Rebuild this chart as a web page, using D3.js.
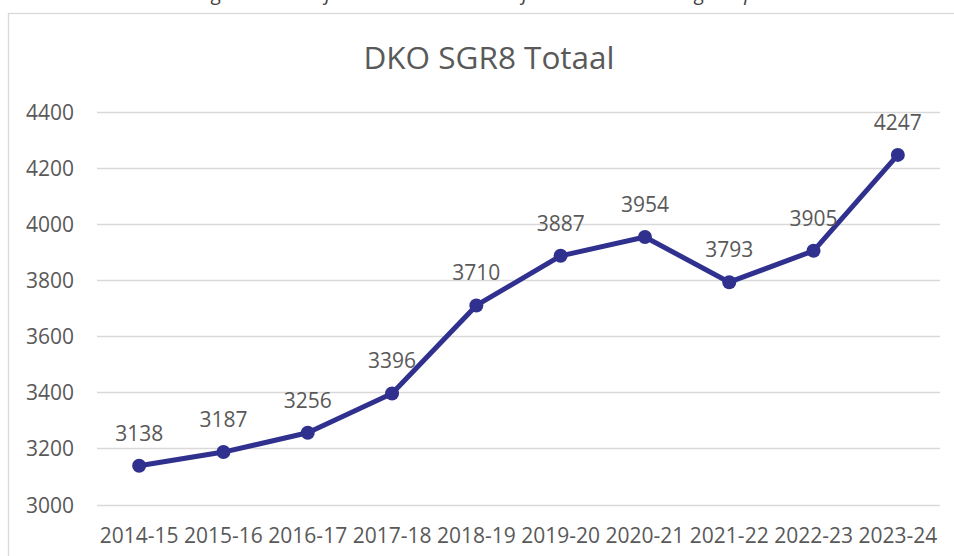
<!DOCTYPE html>
<html>
<head>
<meta charset="utf-8">
<script src="https://cdn.jsdelivr.net/npm/d3@7"></script>
<style>
  html, body { margin: 0; padding: 0; background: #ffffff; }
  svg { display: block; }
</style>
</head>
<body>
<svg id="chart" width="954" height="556"></svg>
<script>
const title = "DKO SGR8 Totaal";
const categories = ["2014-15","2015-16","2016-17","2017-18","2018-19","2019-20","2020-21","2021-22","2022-23","2023-24"];
const values = [3138, 3187, 3256, 3396, 3710, 3887, 3954, 3793, 3905, 4247];
const yTicks = [3000, 3200, 3400, 3600, 3800, 4000, 4200, 4400];
// descender fragments of a cropped text line above the chart
const croppedGlyphs = [["g", 217], ["j", 328], ["j", 525], ["g", 700], ["p", 750]];

const svg = d3.select("#chart");
const font = "'Open Sans', sans-serif";
const textColor = "#595959";

// cropped glyphs at very top
svg.selectAll("text.crop").data(croppedGlyphs).enter().append("text")
  .attr("class", "crop")
  .attr("x", d => d[1]).attr("y", 0)
  .attr("text-anchor", "middle")
  .style("font-family", font).style("font-style", "italic")
  .style("font-size", "20px").attr("fill", "#404040")
  .text(d => d[0]);

// chart outer border (extends beyond the viewport on right/bottom)
svg.append("rect")
  .attr("x", 8.5).attr("y", 13.5).attr("width", 1000).attr("height", 600)
  .attr("fill", "#ffffff").attr("stroke", "#d9d9d9").attr("stroke-width", 1.3);

const plot = { left: 97, right: 940, top: 112, bottom: 504.5 };

const x = d3.scaleBand().domain(categories).range([plot.left, plot.right]).padding(0);
const y = d3.scaleLinear().domain([3000, 4400]).range([plot.bottom, plot.top]);

// title
svg.append("text")
  .attr("x", 489).attr("y", 69)
  .attr("text-anchor", "middle")
  .style("font-family", font).style("font-size", "31.5px")
  .attr("fill", textColor)
  .text(title);

// gridlines
svg.append("g").selectAll("line").data(yTicks).enter().append("line")
  .attr("x1", plot.left).attr("x2", plot.right)
  .attr("y1", d => Math.round(y(d)) + 0.5).attr("y2", d => Math.round(y(d)) + 0.5)
  .attr("stroke", "#d9d9d9").attr("stroke-width", 1.3);

// y axis
const yAxis = d3.axisLeft(y).tickValues(yTicks).tickSize(0).tickPadding(0).tickFormat(d3.format("d"));
const gy = svg.append("g").attr("transform", `translate(74,0)`).call(yAxis);
gy.select(".domain").remove();
gy.selectAll("text").style("font-family", font).style("font-size", "21px").attr("fill", textColor).attr("dy", "0.36em");

// x axis
const xAxis = d3.axisBottom(x).tickSize(0).tickPadding(0);
const gx = svg.append("g").attr("transform", `translate(0,${plot.bottom + 23})`).call(xAxis);
gx.select(".domain").remove();
gx.selectAll("text").style("font-family", font).style("font-size", "21px").attr("fill", textColor).attr("dy", "0.74em");

const cx = d => x(d) + x.bandwidth() / 2;
const data = categories.map((c, i) => ({ c, v: values[i] }));

// line
const lineColor = "#30308f";
svg.append("path")
  .datum(data)
  .attr("fill", "none")
  .attr("stroke", lineColor)
  .attr("stroke-width", 5)
  .attr("stroke-linejoin", "round")
  .attr("stroke-linecap", "round")
  .attr("d", d3.line().x(d => cx(d.c)).y(d => y(d.v)));

// markers
svg.append("g").selectAll("circle").data(data).enter().append("circle")
  .attr("cx", d => cx(d.c)).attr("cy", d => y(d.v)).attr("r", 7)
  .attr("fill", lineColor);

// data labels
svg.append("g").selectAll("text").data(data).enter().append("text")
  .attr("x", d => cx(d.c)).attr("y", d => y(d.v) - 25)
  .attr("text-anchor", "middle")
  .style("font-family", font).style("font-size", "21px")
  .attr("fill", textColor)
  .text(d => d.v);
</script>
</body>
</html>
